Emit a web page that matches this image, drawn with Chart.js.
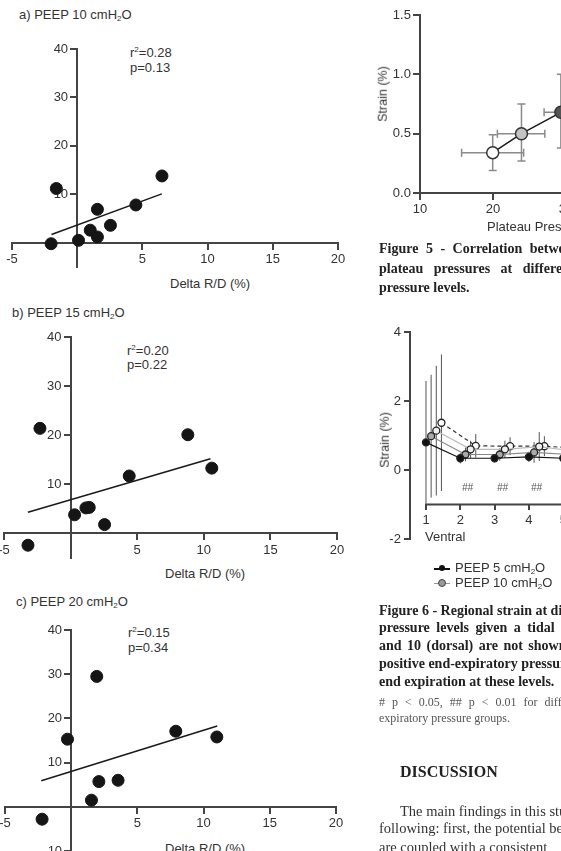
<!DOCTYPE html>
<html>
<head>
<meta charset="utf-8">
<script src="https://cdn.jsdelivr.net/npm/chart.js@4.4.1/dist/chart.umd.min.js"></script>
<style>
  html, body { margin: 0; padding: 0; background: #fff; }
  body { width: 561px; height: 851px; overflow: hidden; position: relative; font-family: "Liberation Sans", Arial, sans-serif; color: #333; }
  canvas { position: absolute; }
  .t { position: absolute; white-space: nowrap; line-height: 1; }
  .s { font-family: "Liberation Sans", Arial, sans-serif; font-size: 13px; color: #333; }
  .s sub { font-size: 8px; vertical-align: -2px; line-height: 0; }
  .cap { font-family: "Liberation Serif", serif; font-weight: bold; font-size: 14px; color: #222; }
  .note { font-family: "Liberation Serif", serif; font-size: 12px; color: #555; }
  .body { font-family: "Liberation Serif", serif; font-size: 14.5px; color: #333; }
  .ylab { transform: translate(-50%, -50%) rotate(-90deg); }
  .lg { position: absolute; width: 16px; height: 0; }
  .lg i { position: absolute; left: 5px; top: -4px; width: 6px; height: 6px; border-radius: 50%; }
</style>
</head>
<body>

<div class="t s" style="left:19px;top:8px">a) PEEP 10 cmH<sub>2</sub>O</div>
<div class="t s" style="left:130px;top:46px">r<sup style="font-size:8px">2</sup>=0.28</div>
<div class="t s" style="left:130px;top:61px">p=0.13</div>
<div class="t s" style="left:170px;top:277px">Delta R/D (%)</div>
<canvas id="chartA" width="366" height="257" style="left:-8px;top:35px"></canvas>

<div class="t s" style="left:12px;top:306px">b) PEEP 15 cmH<sub>2</sub>O</div>
<div class="t s" style="left:127px;top:344px">r<sup style="font-size:8px">2</sup>=0.20</div>
<div class="t s" style="left:127px;top:358px">p=0.22</div>
<div class="t s" style="left:165px;top:567px">Delta R/D (%)</div>
<canvas id="chartB" width="373" height="260" style="left:-16px;top:323px"></canvas>

<div class="t s" style="left:16px;top:595px">c) PEEP 20 cmH<sub>2</sub>O</div>
<div class="t s" style="left:128px;top:626px">r<sup style="font-size:8px">2</sup>=0.15</div>
<div class="t s" style="left:128px;top:641px">p=0.34</div>
<div class="t s" style="left:165px;top:842px">Delta R/D (%)</div>
<canvas id="chartC" width="371" height="260" style="left:-15px;top:616px"></canvas>

<canvas id="fig5" width="372" height="220" style="left:360px;top:3px"></canvas>
<div class="t s ylab" style="left:383px;top:94px;font-size:12.5px">Strain (%)</div>
<div class="t s" style="left:487px;top:220px">Plateau Pressure (cmH<sub>2</sub>O)</div>

<div class="t cap" style="left:379px;top:242px;word-spacing:4px">Figure 5 - Correlation between strain and</div>
<div class="t cap" style="left:379px;top:262px;word-spacing:7px">plateau pressures at different positive</div>
<div class="t cap" style="left:379px;top:281px">pressure levels.</div>

<canvas id="fig6" width="422" height="251" style="left:350px;top:318px"></canvas>
<div class="t s ylab" style="left:385px;top:440px;font-size:12.5px">Strain (%)</div>
<div class="t s" style="left:425px;top:530px">Ventral</div>
<div class="t s" style="left:462px;top:483px;font-style:italic;font-size:10px;color:#555">##</div>
<div class="t s" style="left:497px;top:483px;font-style:italic;font-size:10px;color:#555">##</div>
<div class="t s" style="left:531px;top:483px;font-style:italic;font-size:10px;color:#555">##</div>

<div class="lg" style="left:434px;top:568px;border-top:2px solid #111"><i style="background:#111;top:-5px"></i></div>
<div class="t s" style="left:455px;top:561px">PEEP 5 cmH<sub>2</sub>O</div>
<div class="lg" style="left:434px;top:583px;border-top:1.5px solid #999"><i style="background:#999;border:1px solid #444;top:-5px;left:4px"></i></div>
<div class="t s" style="left:455px;top:576px">PEEP 10 cmH<sub>2</sub>O</div>

<div class="t cap" style="left:379px;top:604px">Figure 6 - Regional strain at different</div>
<div class="t cap" style="left:379px;top:621px;word-spacing:3px">pressure levels given a tidal volume</div>
<div class="t cap" style="left:379px;top:639px;word-spacing:2px">and 10 (dorsal) are not shown</div>
<div class="t cap" style="left:379px;top:657px">positive end-expiratory pressure</div>
<div class="t cap" style="left:379px;top:675px">end expiration at these levels.</div>
<div class="t note" style="left:379px;top:696px;word-spacing:4px"># p &lt; 0.05, ## p &lt; 0.01 for differences</div>
<div class="t note" style="left:379px;top:712px">expiratory pressure groups.</div>

<div class="t cap" style="left:400px;top:764px;font-size:16px">DISCUSSION</div>
<div class="t body" style="left:400px;top:804px">The main findings in this study</div>
<div class="t body" style="left:379px;top:821px">following: first, the potential benefits</div>
<div class="t body" style="left:379px;top:840px">are coupled with a consistent</div>

<script>
// ---- scatter plots (Delta R/D) ----
const peep10X = [-1.6, 6.5, 4.5, 1.55, 2.55, 1.0, 1.55, 0.1, -2.0];
const peep10Y = [11.2, 13.8, 7.8, 6.9, 3.6, 2.6, 1.2, 0.5, -0.2];
const peep10FitX = [-1.97, 6.49];
const peep10FitY = [1.7, 10.1];

const peep15X = [-2.3, 8.8, 10.6, 4.4, 1.15, 1.4, 0.3, 2.55, -3.2];
const peep15Y = [21.4, 20.1, 13.3, 11.7, 5.2, 5.3, 3.8, 1.8, -2.4];
const peep15FitX = [-3.2, 10.5];
const peep15FitY = [4.3, 15.2];

const peep20X = [1.93, 7.9, 11.0, -0.28, 3.54, 2.09, 1.53, -2.2];
const peep20Y = [29.5, 17.1, 15.8, 15.3, 6.0, 5.7, 1.5, -2.8];
const peep20FitX = [-2.26, 11.03];
const peep20FitY = [5.9, 18.3];

const deltaTicks = [-5, 5, 10, 15, 20];
const yTicksAB = [10, 20, 30, 40];
const yTicksC = [-10, 10, 20, 30, 40];

// ---- figure 5 ----
const plateauP = [19.96, 23.9, 29.3];
const strainMean = [0.34, 0.5, 0.68];
const plateauLo = [15.7, 20.6, 27.0];
const plateauHi = [24.2, 27.1, 31.6];
const strainLo = [0.19, 0.27, 0.38];
const strainHi = [0.49, 0.75, 1.0];
const fig5Fill = ['#ffffff', '#c4c4c4', '#555555'];

// ---- figure 6 ----
const regions = [1, 2, 3, 4, 5];
const strain5 = [0.80, 0.34, 0.34, 0.38, 0.34];
const sd5 = [1.78, 0.15, 0.12, 0.15, 0.12];
const strain10 = [0.98, 0.45, 0.45, 0.51, 0.45];
const sd10 = [1.78, 0.2, 0.18, 0.3, 0.2];
const strain15 = [1.14, 0.60, 0.60, 0.68, 0.55];
const sd15 = [1.88, 0.25, 0.25, 0.42, 0.25];
const strain20 = [1.37, 0.70, 0.69, 0.69, 0.63];
const sd20 = [1.98, 0.34, 0.26, 0.29, 0.3];
const regionTicks = [1, 2, 3, 4, 5, 6, 7, 8, 9, 10];

const tickFont = { family: 'Liberation Sans', size: 13 };
const axisCol = '#444';
// labels of an axis placed at a data value sit on the line itself, so push them left
const gap = '\u2002\u2009';

// draws error bars from extra arrays put on the dataset
const errorBars = {
  id: 'errorBars',
  beforeDatasetsDraw(chart) {
    const ctx = chart.ctx;
    const sx = chart.scales.x, sy = chart.scales.y;
    ctx.save();
    chart.data.datasets.forEach(ds => {
      if (!ds.yLow) return;
      ctx.strokeStyle = ds.errColor;
      ctx.lineWidth = ds.errWidth;
      ds.data.forEach((p, i) => {
        const px = sx.getPixelForValue(p.x), py = sy.getPixelForValue(p.y);
        const y1 = sy.getPixelForValue(ds.yLow[i]), y2 = sy.getPixelForValue(ds.yHigh[i]);
        ctx.beginPath();
        ctx.moveTo(px, y1); ctx.lineTo(px, y2);
        if (ds.cap) {
          ctx.moveTo(px - ds.cap, y1); ctx.lineTo(px + ds.cap, y1);
          ctx.moveTo(px - ds.cap, y2); ctx.lineTo(px + ds.cap, y2);
        }
        if (ds.xLow) {
          const x1 = sx.getPixelForValue(ds.xLow[i]), x2 = sx.getPixelForValue(ds.xHigh[i]);
          ctx.moveTo(x1, py); ctx.lineTo(x2, py);
          ctx.moveTo(x1, py - ds.cap); ctx.lineTo(x1, py + ds.cap);
          ctx.moveTo(x2, py - ds.cap); ctx.lineTo(x2, py + ds.cap);
        }
        ctx.stroke();
      });
    });
    ctx.restore();
  }
};

function axisOpts(extra) {
  return Object.assign({
    type: 'linear',
    border: { color: axisCol, width: 2 },
    grid: { drawOnChartArea: false, color: axisCol, lineWidth: 2, tickLength: 6 },
    ticks: { color: '#333', font: tickFont, padding: 3, maxRotation: 0 }
  }, extra);
}

function makeScatter(id, xs, ys, fitX, fitY, yMin, yTicks) {
  const pts = xs.map((x, i) => ({ x: x, y: ys[i] }));
  const fit = fitX.map((x, i) => ({ x: x, y: fitY[i] }));
  return new Chart(document.getElementById(id), {
    type: 'scatter',
    data: {
      datasets: [
        { data: fit, showLine: true, borderColor: '#1a1a1a', borderWidth: 1.5, pointRadius: 0 },
        { data: pts, backgroundColor: '#151515', borderColor: '#151515', pointRadius: 6 }
      ]
    },
    options: {
      responsive: false,
      animation: false,
      layout: { padding: { left: 20, right: 20, top: 14, bottom: 25 } },
      plugins: { legend: { display: false }, tooltip: { enabled: false } },
      scales: {
        x: axisOpts({
          min: -5, max: 20, position: { y: 0 },
          afterBuildTicks: s => { s.ticks = deltaTicks.map(v => ({ value: v })); }
        }),
        y: axisOpts({
          min: yMin, max: 40, position: { x: 0 },
          ticks: { color: '#333', font: tickFont, callback: v => v + gap },
          afterBuildTicks: s => { s.ticks = yTicks.map(v => ({ value: v })); }
        })
      }
    }
  });
}

makeScatter('chartA', peep10X, peep10Y, peep10FitX, peep10FitY, -5, yTicksAB);
makeScatter('chartB', peep15X, peep15Y, peep15FitX, peep15FitY, -5, yTicksAB);
makeScatter('chartC', peep20X, peep20Y, peep20FitX, peep20FitY, -10, yTicksC);

// Figure 5
new Chart(document.getElementById('fig5'), {
  type: 'scatter',
  data: {
    datasets: [{
      data: plateauP.map((x, i) => ({ x: x, y: strainMean[i] })),
      showLine: true,
      borderColor: '#1a1a1a',
      borderWidth: 1.5,
      pointRadius: 6,
      pointBackgroundColor: fig5Fill,
      pointBorderColor: '#333',
      pointBorderWidth: 1.5,
      xLow: plateauLo, xHigh: plateauHi, yLow: strainLo, yHigh: strainHi,
      errColor: '#8a8a8a', errWidth: 1.5, cap: 4
    }]
  },
  options: {
    responsive: false,
    animation: false,
    layout: { padding: { left: 60, right: 20, top: 12, bottom: 30 } },
    plugins: { legend: { display: false }, tooltip: { enabled: false } },
    scales: {
      x: axisOpts({ min: 10, max: 50, position: { y: 0 }, ticks: { color: '#333', font: tickFont, padding: 3, stepSize: 10 } }),
      y: axisOpts({ min: 0, max: 1.5, position: { x: 10 },
        ticks: { color: '#333', font: tickFont, stepSize: 0.5, callback: v => v.toFixed(1) + gap } })
    }
  },
  plugins: [errorBars]
});

// Figure 6
function regionSeries(vals, sd, offset, line, fill, dash) {
  return {
    data: regions.map((r, i) => ({ x: r + offset, y: vals[i] })),
    showLine: true,
    borderColor: line,
    borderWidth: 1.2,
    borderDash: dash,
    pointRadius: 3.5,
    pointBackgroundColor: fill,
    pointBorderColor: '#222',
    pointBorderWidth: 1.3,
    yLow: vals.map((v, i) => v - sd[i]),
    yHigh: vals.map((v, i) => v + sd[i]),
    errColor: '#555', errWidth: 1, cap: 0
  };
}

const xAxisLine = {
  id: 'xAxisLine',
  afterDatasetsDraw(chart) {
    const ctx = chart.ctx, sx = chart.scales.x, sy = chart.scales.y;
    const y = sy.getPixelForValue(-1);
    ctx.save();
    ctx.strokeStyle = axisCol;
    ctx.lineWidth = 2;
    ctx.beginPath();
    ctx.moveTo(sx.getPixelForValue(1) - 1, y);
    ctx.lineTo(chart.chartArea.right, y);
    ctx.stroke();
    ctx.restore();
  }
};

new Chart(document.getElementById('fig6'), {
  type: 'scatter',
  data: {
    datasets: [
      regionSeries(strain5, sd5, 0, '#111', '#111', []),
      regionSeries(strain10, sd10, 0.15, '#888', '#aaa', []),
      regionSeries(strain15, sd15, 0.3, '#bbb', '#eee', []),
      regionSeries(strain20, sd20, 0.45, '#333', '#fff', [4, 3])
    ]
  },
  options: {
    responsive: false,
    animation: false,
    layout: { padding: { left: 60, right: 20, top: 14, bottom: 30 } },
    plugins: { legend: { display: false }, tooltip: { enabled: false } },
    scales: {
      x: axisOpts({
        min: 0.534, max: 10.5, position: { y: -1 },
        border: { display: false },
        grid: { drawOnChartArea: false, color: axisCol, lineWidth: 2, tickLength: 5 },
        afterBuildTicks: s => { s.ticks = regionTicks.map(v => ({ value: v })); }
      }),
      y: axisOpts({ min: -2, max: 4, position: { x: 0.534 },
        grid: { drawOnChartArea: false, color: axisCol, lineWidth: 2, tickLength: 5 },
        ticks: { color: '#333', font: tickFont, stepSize: 2, callback: v => v + gap } })
    }
  },
  plugins: [errorBars, xAxisLine]
});
</script>
</body>
</html>
